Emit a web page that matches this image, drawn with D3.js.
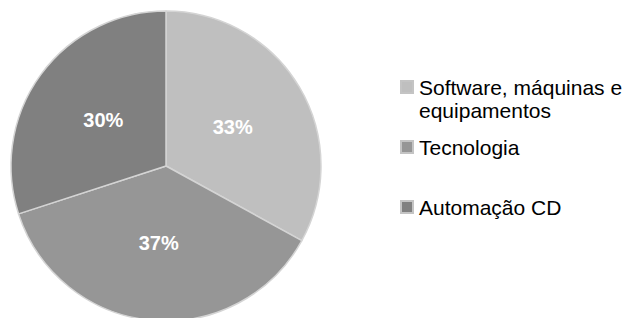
<!DOCTYPE html>
<html>
<head>
<meta charset="utf-8">
<script src="https://cdn.jsdelivr.net/npm/d3@7"></script>
<style>
html,body{margin:0;padding:0;background:#fff;}
svg{display:block;}
text{font-family:"Liberation Sans",Arial,sans-serif;}
</style>
</head>
<body>
<svg id="chart" width="622" height="318"></svg>
<script>
const categories = ["Software, máquinas e equipamentos", "Tecnologia", "Automação CD"];
const legendLines = [["Software, máquinas e", "equipamentos"], ["Tecnologia"], ["Automação CD"]];
const values = [33, 37, 30];
const colors = ["#bfbfbf", "#969696", "#808080"];

const svg = d3.select("#chart");
const cx = 166, cy = 166, R = 155;

const pie = d3.pie().sort(null).value(d => d)(values);
const arc = d3.arc().innerRadius(0).outerRadius(R);
const labelArc = d3.arc().innerRadius(0).outerRadius(R);

const g = svg.append("g").attr("transform", `translate(${cx},${cy})`);
g.selectAll("path").data(pie).join("path")
  .attr("d", arc)
  .attr("fill", (d, i) => colors[i])
  .attr("stroke", "#d4d4d4")
  .attr("stroke-width", 1.5)
  .attr("stroke-linejoin", "round");

g.selectAll("text.lbl").data(pie).join("text")
  .attr("class", "lbl")
  .attr("transform", d => `translate(${labelArc.centroid(d)})`)
  .attr("text-anchor", "middle")
  .attr("dy", "0.35em")
  .attr("fill", "#fff")
  .attr("font-weight", "bold")
  .attr("font-size", 20)
  .text((d, i) => values[i] + "%");

// Legend
const legendY = d3.scaleOrdinal().domain(categories).range([95, 155, 215]);
const lg = svg.append("g");
categories.forEach((c, i) => {
  const y = legendY(c);
  lg.append("rect")
    .attr("x", 401).attr("y", y - 14)
    .attr("width", 12).attr("height", 12)
    .attr("fill", colors[i])
    .attr("stroke", "#c4c4c4")
    .attr("stroke-width", 2);
  const t = lg.append("text")
    .attr("x", 419).attr("y", y)
    .attr("font-size", 21)
    .attr("fill", "#000");
  legendLines[i].forEach((line, j) => {
    t.append("tspan").attr("x", 419).attr("dy", j === 0 ? 0 : 22.5).text(line);
  });
});
</script>
</body>
</html>
